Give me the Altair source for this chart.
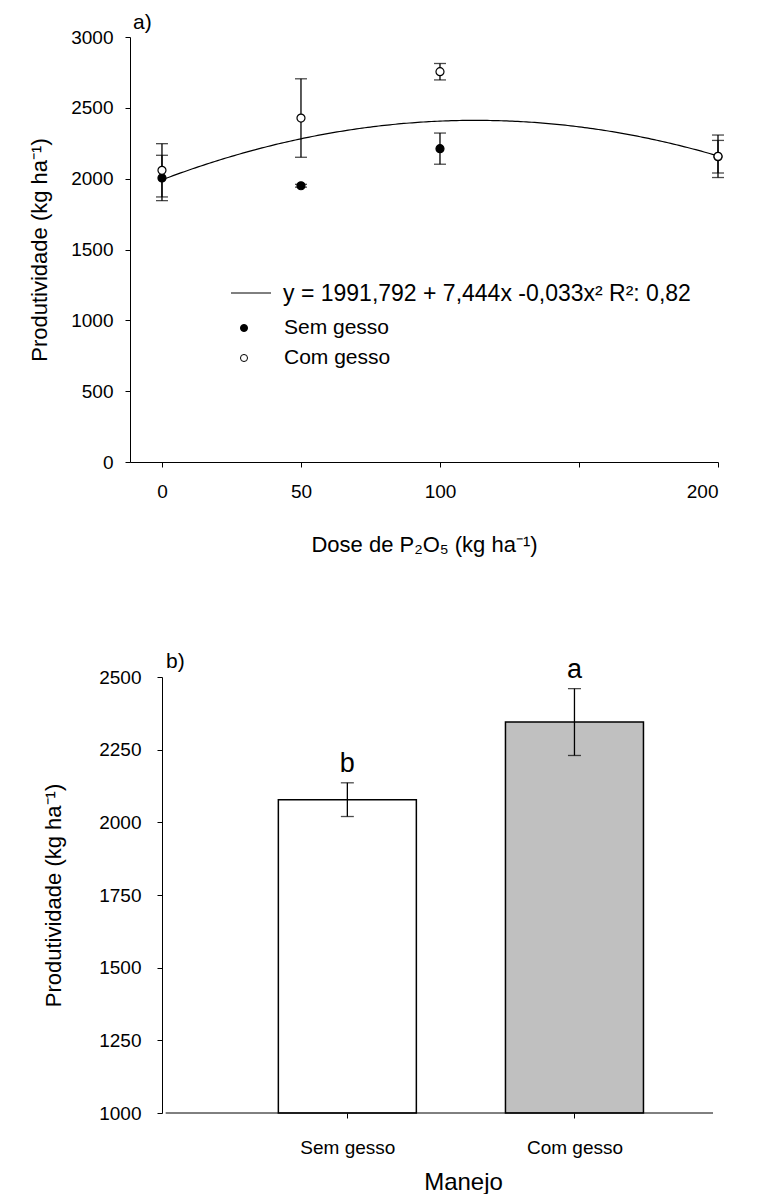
import altair as alt
import pandas as pd

# ---------------- panel a) data ----------------
dose = [0, 50, 100, 200]
sem_gesso_mean = [2005, 1950, 2212, 2155]
sem_gesso_err = [160, 10, 110, 115]
com_gesso_mean = [2059, 2428, 2755, 2158]
com_gesso_err = [188, 277, 58, 150]
grupos = ["Sem gesso", "Com gesso"]
fit_coef = [1991.792, 7.444, -0.033]
fit_label = "y = 1991,792 + 7,444x -0,033x² R²: 0,82"
x_ticks_a = [0, 50, 100, 150, 200]
y_ticks_a = [0, 500, 1000, 1500, 2000, 2500, 3000]

# ---------------- panel b) data ----------------
manejo = ["Sem gesso", "Com gesso"]
manejo_pos = [1, 2]
produtividade = [2078, 2345]
produtividade_err = [58, 115]
letras = ["b", "a"]
bar_colors = ["#FFFFFF", "#C0C0C0"]
y_ticks_b = [1000, 1250, 1500, 1750, 2000, 2250, 2500]

FONT = "Liberation Sans"

# ---------- table a ----------
rows = []
for g, means, errs in [(grupos[0], sem_gesso_mean, sem_gesso_err),
                       (grupos[1], com_gesso_mean, com_gesso_err)]:
    for d, m, e in zip(dose, means, errs):
        rows.append({"dose": d, "grupo": g, "valor": m, "lo": m - e, "hi": m + e})
df_a = pd.DataFrame(rows)

xa_scale = alt.Scale(domain=[-11.5, 200], nice=False, zero=False)
ya_scale = alt.Scale(domain=[0, 3000], nice=False, zero=False)

xa = alt.X("dose:Q", scale=xa_scale,
           axis=alt.Axis(values=x_ticks_a,
                         labelExpr="datum.value == 150 ? '' : datum.label",
                         title="Dose de P₂O₅ (kg ha⁻¹)",
                         labelPadding=15, titlePadding=33))
ya = alt.Y("valor:Q", scale=ya_scale,
           axis=alt.Axis(values=y_ticks_a, format="d", title="Produtividade (kg ha⁻¹)",
                         labelPadding=12, titlePadding=19))

base_a = alt.Chart(df_a)

curve = alt.Chart(alt.sequence(0, 201, 1, as_="dose")).transform_calculate(
    valor=f"{fit_coef[0]} + {fit_coef[1]}*datum.dose + ({fit_coef[2]})*datum.dose*datum.dose"
).mark_line(color="black", strokeWidth=1.2).encode(x=xa, y=ya)

err_rule = base_a.mark_rule(color="black", strokeWidth=1.3).encode(
    x=alt.X("dose:Q", scale=xa_scale),
    y=alt.Y("lo:Q", scale=ya_scale),
    y2="hi:Q")

caps = base_a.transform_fold(["lo", "hi"], as_=["k", "v"]).mark_tick(
    orient="horizontal", size=12, thickness=1.3, color="black").encode(
    x=alt.X("dose:Q", scale=xa_scale),
    y=alt.Y("v:Q", scale=ya_scale))

pts = base_a.mark_point(shape="circle", filled=True, stroke="black",
                        strokeWidth=1.2, size=64, opacity=1).encode(
    x=alt.X("dose:Q", scale=xa_scale),
    y=alt.Y("valor:Q", scale=ya_scale),
    fill=alt.Fill("grupo:N", scale=alt.Scale(domain=grupos, range=["black", "white"]),
                  legend=None),
    order=alt.Order("grupo:N", sort="descending"))

# legend (layout only)
leg_df = pd.DataFrame({"t": [0]})
leg_line = alt.Chart(leg_df).mark_rule(color="black", strokeWidth=1).encode(
    x=alt.value(101), x2=alt.value(141), y=alt.value(256))
leg_eq = alt.Chart(leg_df).mark_text(align="left", baseline="middle", fontSize=23,
                                     font=FONT, color="black").encode(
    x=alt.value(153), y=alt.value(257), text=alt.value(fit_label))
leg_sym_df = pd.DataFrame({"grupo": grupos, "yy": [291, 321]})
leg_sym = alt.Chart(leg_sym_df).mark_point(shape="circle", filled=True, stroke="black",
                                           strokeWidth=1, size=50, opacity=1).encode(
    x=alt.value(114), y=alt.Y("yy:Q", scale=None),
    fill=alt.Fill("grupo:N", scale=alt.Scale(domain=grupos, range=["black", "white"]),
                  legend=None))
leg_txt = alt.Chart(leg_sym_df).mark_text(align="left", baseline="middle", fontSize=21,
                                          font=FONT, color="black").encode(
    x=alt.value(154), y=alt.Y("yy:Q", scale=None), text="grupo:N")

tag_a = alt.Chart(leg_df).mark_text(align="left", baseline="middle", fontSize=21,
                                    font=FONT, color="black").encode(
    x=alt.value(3), y=alt.value(-14), text=alt.value("a)"))

top = alt.layer(curve, err_rule, caps, pts, leg_line, leg_eq, leg_sym, leg_txt, tag_a
                ).properties(width=588, height=425)

# ---------- panel b ----------
df_b = pd.DataFrame({"manejo": manejo, "pos": manejo_pos, "prod": produtividade,
                     "err": produtividade_err, "letra": letras, "cor": bar_colors})
df_b["lo"] = df_b["prod"] - df_b["err"]
df_b["hi"] = df_b["prod"] + df_b["err"]

xb_scale = alt.Scale(domain=[0.065, 2.61], nice=False, zero=False)
yb_scale = alt.Scale(domain=[1000, 2500], nice=False, zero=False)
label_expr = "[" + ",".join(f"'{m}'" for m in manejo) + "][datum.value - 1]"

xb = alt.X("pos:Q", scale=xb_scale,
           axis=alt.Axis(values=manejo_pos, labelExpr=label_expr, domain=False,
                         title="Manejo", labelFontSize=19, labelPadding=20,
                         titlePadding=13, titleFontSize=24, titleX=333))
yb = alt.Y("prod:Q", scale=yb_scale,
           axis=alt.Axis(values=y_ticks_b, format="d", title="Produtividade (kg ha⁻¹)",
                         offset=-32, labelPadding=16, titlePadding=33))

base_b = alt.Chart(df_b)
bars = base_b.mark_bar(size=138, stroke="black", strokeWidth=1.5).encode(
    x=xb, y=yb, y2=alt.datum(1000),
    fill=alt.Fill("cor:N", scale=None))

baseline = alt.Chart(leg_df).mark_rule(color="black", strokeWidth=1).encode(
    x=alt.datum(0.2), x2=alt.datum(2.61), y=alt.datum(1000))

err_b = base_b.mark_rule(color="black", strokeWidth=1.3).encode(
    x=alt.X("pos:Q", scale=xb_scale), y=alt.Y("lo:Q", scale=yb_scale), y2="hi:Q")
caps_b = base_b.transform_fold(["lo", "hi"], as_=["k", "v"]).mark_tick(
    orient="horizontal", size=13, thickness=1.3, color="black").encode(
    x=alt.X("pos:Q", scale=xb_scale), y=alt.Y("v:Q", scale=yb_scale))
let_b = base_b.mark_text(baseline="alphabetic", dy=-11, fontSize=27, font=FONT,
                         color="black").encode(
    x=alt.X("pos:Q", scale=xb_scale), y=alt.Y("hi:Q", scale=yb_scale), text="letra:N")
tag_b = alt.Chart(leg_df).mark_text(align="left", baseline="middle", fontSize=21,
                                    font=FONT, color="black").encode(
    x=alt.value(36), y=alt.value(-15), text=alt.value("b)"))

bottom = alt.layer(bars, baseline, err_b, caps_b, let_b, tag_b).properties(width=588, height=436)

chart = alt.vconcat(top, bottom, spacing=96).properties(
    padding={"left": 20, "top": 4, "right": 5, "bottom": 0}
).configure_view(stroke=None).configure_axis(
    grid=False, domainColor="black", tickColor="black", labelColor="black",
    titleColor="black", labelFont=FONT, titleFont=FONT, labelFontSize=19,
    titleFontSize=22, titleFontWeight="normal", tickSize=5, domainWidth=1, tickWidth=1)

chart.save("out.html", embed_options={"renderer": "svg", "actions": False})
